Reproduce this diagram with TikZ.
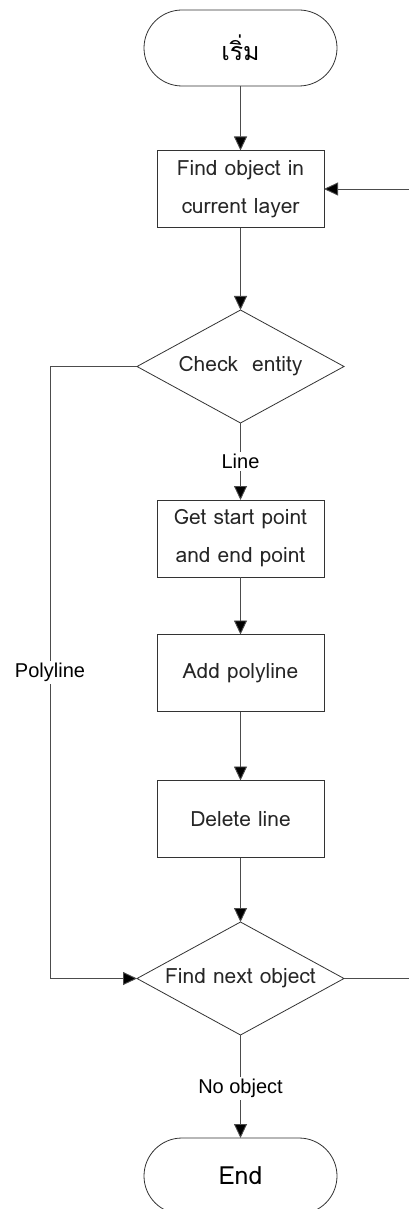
\documentclass[tikz,border=0pt]{standalone}
\usepackage{fontspec}
\setmainfont{Liberation Sans}
\newfontfamily\thaifont[Script=Thai]{Loma}
\usetikzlibrary{arrows.meta,shapes.geometric,shapes.misc}
\begin{document}
\begin{tikzpicture}[x=1pt,y=-1pt,
  every node/.style={inner sep=0pt,outer sep=0pt},
  flowline/.style={draw=black!70,line width=0.9pt},
  arr/.style={flowline,-{Triangle[length=14pt,width=13pt,fill=black]}},
  term/.style={draw=black!80,line width=0.8pt,rounded rectangle,minimum width=193pt,minimum height=76pt,font=\thaifont\fontsize{25}{28}\selectfont},
  procbox/.style={draw=black!80,line width=0.8pt,rectangle,minimum width=167pt,minimum height=77pt,align=center,text=black!85,font=\thaifont\fontsize{21}{38}\selectfont},
  decision/.style={draw=black!80,line width=0.8pt,diamond,minimum width=207pt,minimum height=113pt,aspect=1.83,text=black!85,font=\thaifont\fontsize{21}{24}\selectfont},
  lbl/.style={fill=white,inner sep=2pt,font=\fontsize{20}{23}\selectfont}]
\useasboundingbox (0,0) rectangle (409,1209);
\fill[white] (0,0) rectangle (409,1209);

% flow nodes
\node[term] (start) at (240.5,48) {เริ่ม};
\node[procbox] (find) at (240.5,189) {Find object in\\current layer};
\node[decision] (check) at (240.5,366.5) {Check~~entity};
\node[procbox] (getpts) at (240.5,538.5) {Get start point\\and end point};
\node[procbox] (addpl) at (240.5,673) {Add polyline};
\node[procbox] (del) at (240.5,819) {Delete line};
\node[decision] (next) at (240.5,978.5) {Find next object};
\node[term] (finish) at (240.5,1176) {End};

% loop stubs at the right edge
\coordinate (loopin) at (409,189);
\coordinate (loopout) at (409,978.5);
\coordinate (polyturn) at (50,366.5);
\coordinate (polyend) at (50,978.5);

% connectors
\draw[arr] (start) -- (find);
\draw[arr] (find) -- (check);
\draw[arr] (check) -- node[lbl] {Line} (getpts);
\draw[arr] (getpts) -- (addpl);
\draw[arr] (addpl) -- (del);
\draw[arr] (del) -- (next);
\draw[arr] (next) -- node[lbl,pos=0.52] {No object} (finish);
\draw[arr] (check.west) -- (polyturn) -- node[lbl,pos=0.5] {Polyline} (polyend) -- (next.west);
\draw[flowline] (next.east) -- (loopout);
\draw[arr] (loopin) -- (find.east);
\end{tikzpicture}
\end{document}
